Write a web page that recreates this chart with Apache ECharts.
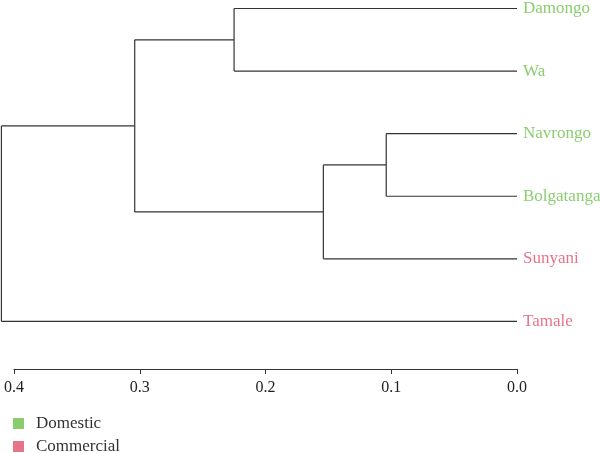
<!DOCTYPE html>
<html>
<head>
<meta charset="utf-8">
<script src="https://cdn.jsdelivr.net/npm/echarts@6/dist/echarts.min.js"></script>
<style>html,body{margin:0;padding:0;background:#fff}#c{width:600px;height:453px}</style>
</head>
<body>
<div id="c"></div>
<script>
// Leaves (top to bottom) and their groups
const leaves = ['Damongo', 'Wa', 'Navrongo', 'Bolgatanga', 'Sunyani', 'Tamale'];
const leafGroups = ['Domestic', 'Domestic', 'Domestic', 'Domestic', 'Commercial', 'Commercial'];
// Linkage: [childA, childB, height]; new nodes numbered from leaves.length
const merges = [
  [0, 1, 0.225],
  [2, 3, 0.104],
  [7, 4, 0.154],
  [6, 8, 0.304],
  [9, 5, 0.410]
];
const groups = ['Domestic', 'Commercial'];
const groupColors = ['#6cc04a', '#e2506c'];
const xTicks = [0, 0.1, 0.2, 0.3, 0.4];

// build node positions
const nodeH = leaves.map(() => 0);
const nodeY = leaves.map((_, i) => i);
const segments = [];
merges.forEach(m => {
  const [a, b, h] = m;
  segments.push([nodeH[a], nodeY[a], h, nodeY[a]]);
  segments.push([nodeH[b], nodeY[b], h, nodeY[b]]);
  segments.push([h, nodeY[a], h, nodeY[b]]);
  nodeH.push(h);
  nodeY.push((nodeY[a] + nodeY[b]) / 2);
});

const serif = 'Liberation Serif';
const colorOf = g => groupColors[groups.indexOf(g)];

const legendBase = {
  orient: 'vertical', left: 13, icon: 'rect',
  itemWidth: 11, itemHeight: 11, itemGap: 12, padding: 0,
  textStyle: { fontFamily: serif, fontSize: 17, color: '#333', padding: [0, 0, 0, 7] }
};

const chart = echarts.init(document.getElementById('c'));
chart.setOption({
  animation: false,
  grid: { left: 14, right: 83, top: 8.5, bottom: 84, containLabel: false },
  xAxis: {
    type: 'value', min: xTicks[0], max: xTicks[xTicks.length - 1], interval: 0.1, inverse: true,
    position: 'bottom',
    axisLine: { onZero: false, lineStyle: { color: '#333', width: 1 } },
    axisTick: { length: 5, lineStyle: { color: '#333' } },
    splitLine: { show: false },
    axisLabel: { fontFamily: serif, fontSize: 16, color: '#222', margin: 11,
      formatter: v => v.toFixed(1) }
  },
  yAxis: { type: 'value', min: 0, max: 5.76, inverse: true, show: false },
  legend: [
    Object.assign({}, legendBase, { top: 415, data: [groups[0]] }),
    Object.assign({}, legendBase, { top: 438, data: [groups[1]] })
  ],
  series: [
    {
      type: 'custom', clip: false, silent: true,
      data: segments,
      renderItem: (params, api) => {
        const p1 = api.coord([api.value(0), api.value(1)]);
        const p2 = api.coord([api.value(2), api.value(3)]);
        return { type: 'line', shape: { x1: p1[0], y1: p1[1], x2: p2[0], y2: p2[1] },
          style: { stroke: '#333', lineWidth: 1.2 } };
      }
    },
    {
      type: 'scatter', symbolSize: 0, clip: false, silent: true,
      data: leaves.map((n, i) => ({
        value: [0, i], name: n,
        label: { show: true, position: 'right', distance: 6, formatter: n,
          fontFamily: serif, fontSize: 17, color: colorOf(leafGroups[i]) }
      }))
    },
    { name: groups[0], type: 'scatter', data: [], itemStyle: { color: groupColors[0] } },
    { name: groups[1], type: 'scatter', data: [], itemStyle: { color: groupColors[1] } }
  ]
});
</script>
</body>
</html>
